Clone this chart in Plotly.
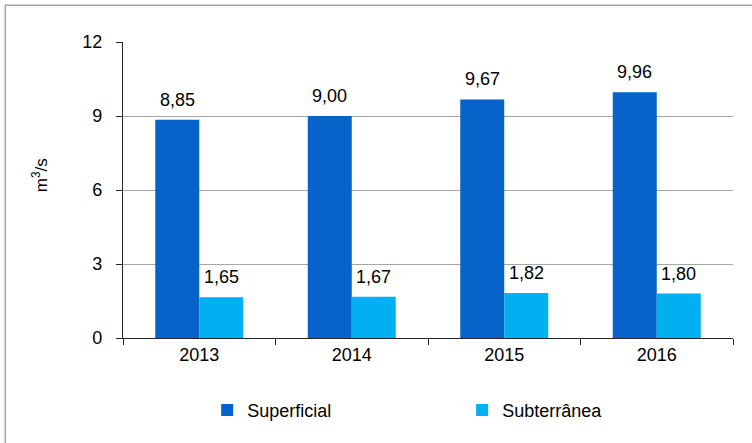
import plotly.graph_objects as go

years = ["2013", "2014", "2015", "2016"]
superficial = [8.85, 9.00, 9.67, 9.96]
subterranea = [1.65, 1.67, 1.82, 1.80]
yticks = [0, 3, 6, 9, 12]

c_sup = "#0563C9"
c_sub = "#00B0F0"
font = "Liberation Sans, Arial, sans-serif"

fig = go.Figure()
fig.add_bar(x=years, y=superficial, name="Superficial", marker_color=c_sup, marker_line_width=0,
            legend="legend")
fig.add_bar(x=years, y=subterranea, name="Subterrânea", marker_color=c_sub, marker_line_width=0,
            legend="legend2")

ann = []
for i, yr in enumerate(years):
    for val, xs in ((superficial[i], -22), (subterranea[i], 22)):
        ann.append(dict(x=i, y=val, xref="x", yref="y", text=f"{val:.2f}".replace(".", ","),
                        showarrow=False, xshift=xs, yshift=8, yanchor="bottom",
                        font=dict(family=font, size=18, color="#000")))
ann.append(dict(x=-0.136, y=0.55, xref="paper", yref="paper", text="m<sup>3</sup>/s", textangle=-90,
                xanchor="center", yanchor="middle",
                showarrow=False, font=dict(family=font, size=17, color="#000")))

legfont = dict(family=font, size=18, color="#000")
fig.update_layout(
    width=752, height=443,
    margin=dict(l=123, r=19, t=42, b=105),
    paper_bgcolor="white", plot_bgcolor="white",
    barmode="group", bargap=0.423, bargroupgap=0,
    showlegend=True,
    legend=dict(orientation="h", x=0.138, xanchor="left", y=-0.244, yanchor="middle",
                font=legfont, itemclick=False, bgcolor="rgba(0,0,0,0)"),
    legend2=dict(orientation="h", x=0.556, xanchor="left", y=-0.244, yanchor="middle",
                 font=legfont, itemclick=False, bgcolor="rgba(0,0,0,0)"),
    annotations=ann,
    shapes=[dict(type="rect", xref="paper", yref="paper", x0=-0.193, x1=1.1, y0=-0.5, y1=1.124,
                 line=dict(color="#A6A6A6", width=1.5), fillcolor="rgba(0,0,0,0)", layer="below")],
    font=dict(family=font, color="#000"),
)
fig.update_xaxes(type="category", showline=True, linecolor="#262626", linewidth=1.2,
                 ticks="outside", tickson="boundaries", ticklen=6, tickcolor="#262626",
                 tickfont=dict(family=font, size=18, color="#000"), showgrid=False)
fig.update_yaxes(range=[0, 12], tickvals=yticks, showline=True, linecolor="#262626", linewidth=1.2,
                 ticks="outside", ticklen=6, tickcolor="#262626",
                 showgrid=True, gridcolor="#A6A6A6", gridwidth=1.2, zeroline=False,
                 tickfont=dict(family=font, size=18, color="#000"), ticklabelstandoff=10)

fig.write_html("out.html", config={"displayModeBar": False},
               post_script="document.body.style.margin='0';")
